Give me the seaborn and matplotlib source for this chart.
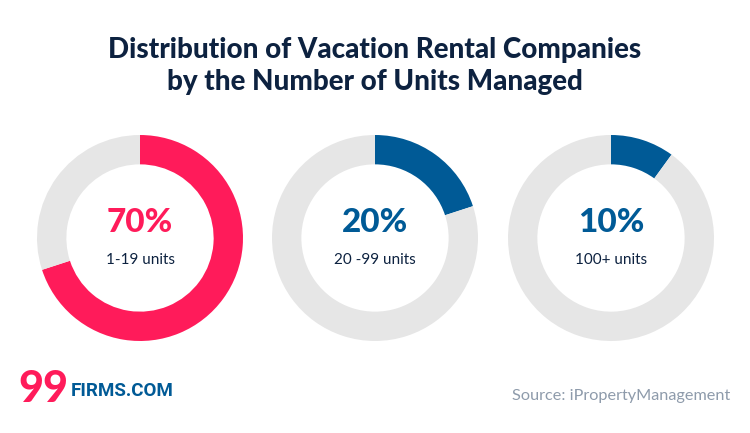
import matplotlib
matplotlib.use("Agg")
import matplotlib.pyplot as plt
import seaborn as sns

sns.set_theme(style="white")
plt.rcParams['font.family'] = ['Lato', 'DejaVu Sans']

categories = ["1-19 units", "20 -99 units", "100+ units"]
values = [70, 20, 10]
pct_labels = ["70%", "20%", "10%"]
colors = ["#FF1B5A", "#005A96", "#005A96"]
track = "#E6E6E6"
title = "Distribution of Vacation Rental Companies\nby the Number of Units Managed"
source = "Source: iPropertyManagement"

W, H = 750, 433
fig = plt.figure(figsize=(W / 100, H / 100), dpi=100)
fig.patch.set_facecolor("white")

centers_x = [140, 375, 611]
cy = 238
R = 103
for cx, v, cat, lab, col in zip(centers_x, values, categories, pct_labels, colors):
    ax = fig.add_axes([(cx - R) / W, (H - cy - R) / H, 2 * R / W, 2 * R / H])
    ax.pie([v, 100 - v], colors=[col, track], startangle=90, counterclock=False,
           radius=1.0, wedgeprops=dict(width=0.285, edgecolor="none"))
    ax.set_aspect("equal")
    ax.set_xlim(-1, 1)
    ax.set_ylim(-1, 1)
    ax.axis("off")
    fig.text(cx / W, 1 - 222 / H, lab, ha="center", va="center",
             fontsize=24, fontweight="black", color=col)
    fig.text(cx / W, 1 - 260 / H, cat, ha="center", va="center",
             fontsize=11, color="#0D2240")

fig.text(375 / W, 1 - 66 / H, title, ha="center", va="center",
         fontsize=20, fontweight="black", color="#0D2240", linespacing=1.25)

fig.text(18 / W, 1 - 389 / H, "99", ha="left", va="center",
         fontsize=31, fontweight="black", color="#FF1B5A")
fig.text(71 / W, 1 - 391 / H, "FIRMS.COM", ha="left", va="center",
         fontsize=13.5, fontweight="bold", color="#005A96",
         family=["Roboto", "DejaVu Sans"])
fig.text(730 / W, 1 - 396 / H, source, ha="right", va="center",
         fontsize=11.7, color="#8E9BAB")

fig.savefig("out.png", dpi=100, facecolor="white")
